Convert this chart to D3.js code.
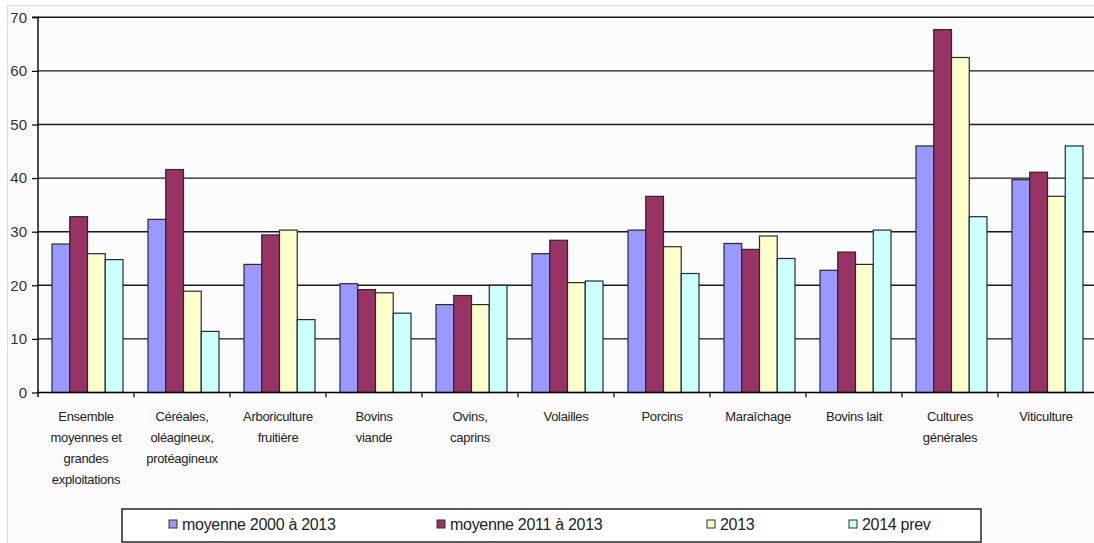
<!DOCTYPE html>
<html><head><meta charset="utf-8">
<script src="https://cdn.jsdelivr.net/npm/d3@7"></script>
<style>
html,body{margin:0;padding:0;background:#fff;}
svg{display:block;font-family:"Liberation Sans",Arial,sans-serif;}
</style></head>
<body>
<svg id="c" width="1094" height="543"></svg>
<script>
const categories = [
  ["Ensemble","moyennes et","grandes","exploitations"],
  ["Céréales,","oléagineux,","protéagineux"],
  ["Arboriculture","fruitière"],
  ["Bovins","viande"],
  ["Ovins,","caprins"],
  ["Volailles"],
  ["Porcins"],
  ["Maraîchage"],
  ["Bovins lait"],
  ["Cultures","générales"],
  ["Viticulture"]
];
const seriesNames = ["moyenne 2000 à 2013","moyenne 2011 à 2013","2013","2014 prev"];
const seriesColors = ["#9999ff","#993366","#ffffcc","#ccffff"];
const moy2000_2013 = [27.7, 32.3, 23.9, 20.3, 16.4, 25.9, 30.3, 27.8, 22.8, 46.0, 39.7];
const moy2011_2013 = [32.8, 41.6, 29.4, 19.2, 18.1, 28.4, 36.6, 26.7, 26.2, 67.7, 41.1];
const v2013        = [25.9, 18.9, 30.3, 18.6, 16.4, 20.5, 27.2, 29.2, 23.9, 62.5, 36.6];
const v2014prev    = [24.8, 11.4, 13.6, 14.8, 20.0, 20.8, 22.2, 25.0, 30.3, 32.8, 46.0];
const yTicks = [0,10,20,30,40,50,60,70];

const series = [moy2000_2013, moy2011_2013, v2013, v2014prev];
const catKeys = categories.map(c => c.join(" "));

const svg = d3.select("#c");
// frame
svg.append("rect").attr("x",7.5).attr("y",5.5).attr("width",1100).attr("height",560)
  .attr("fill","#fcfcfc").attr("stroke","#dcdcdc").attr("stroke-width",1);

const x0 = d3.scaleBand().domain(catKeys).range([38,1094]).padding(0);
const bw = x0.bandwidth();
const x1 = d3.scaleBand().domain(d3.range(4)).range([bw*14/96, bw*85/96]).padding(0);
const y = d3.scaleLinear().domain([0,70]).range([392.5,17.3]);

// gridlines
svg.append("g").selectAll("line").data(yTicks.filter(t=>t>0)).join("line")
  .attr("x1",38).attr("x2",1094).attr("y1",d=>y(d)).attr("y2",d=>y(d))
  .attr("stroke","#1a1a1a").attr("stroke-width",1.4);

// bars
const g = svg.append("g");
catKeys.forEach((k,i)=>{
  series.forEach((s,j)=>{
    g.append("rect")
      .attr("x", x0(k)+x1(j))
      .attr("y", y(s[i]))
      .attr("width", x1.bandwidth())
      .attr("height", y(0)-y(s[i]))
      .attr("fill", seriesColors[j])
      .attr("stroke","#2a2a2a").attr("stroke-width",1.2);
  });
});

// y axis
const yAxis = d3.axisLeft(y).tickValues(yTicks).tickSize(6).tickPadding(5).tickFormat(d3.format("d"));
const ya = svg.append("g").attr("transform","translate(38,0)").call(yAxis);
ya.select(".domain").attr("stroke","#000").attr("stroke-width",1.4).attr("d","M-6,17.3H0V397");
ya.selectAll(".tick line").attr("stroke","#000").attr("stroke-width",1.2);
ya.selectAll(".tick text").attr("font-size",15).attr("fill","#333").attr("font-family","Liberation Sans, Arial, sans-serif").attr("dy","0.32em").attr("x",-11);

// x axis
const xa = svg.append("g").attr("transform","translate(0,392.5)");
xa.append("line").attr("x1",38).attr("x2",1094).attr("y1",0).attr("y2",0).attr("stroke","#000").attr("stroke-width",1.4);
xa.selectAll("line.tk").data(catKeys.slice(1)).join("line").attr("class","tk")
  .attr("x1",d=>x0(d)).attr("x2",d=>x0(d)).attr("y1",0).attr("y2",5).attr("stroke","#000").attr("stroke-width",1.2);

// category labels
const lab = svg.append("g");
categories.forEach((lines,i)=>{
  const cx = x0(catKeys[i]) + bw/2;
  const t = lab.append("text").attr("text-anchor","middle").attr("font-size",13).attr("fill","#222")
    .attr("letter-spacing","-0.3");
  lines.forEach((ln,li)=>{
    t.append("tspan").attr("x",cx).attr("y",416+li*21).attr("dy","0.35em").text(ln);
  });
});

// legend
svg.append("rect").attr("x",122).attr("y",509).attr("width",859).attr("height",33)
  .attr("fill","#fff").attr("stroke","#333").attr("stroke-width",1.6);
const legItems = [{sx:169,tx:182},{sx:437,tx:450},{sx:707,tx:720},{sx:849,tx:862}];
seriesNames.forEach((n,j)=>{
  svg.append("rect").attr("x",legItems[j].sx).attr("y",520).attr("width",8).attr("height",8)
    .attr("fill",seriesColors[j]).attr("stroke","#333").attr("stroke-width",1);
  svg.append("text").attr("x",legItems[j].tx).attr("y",524).attr("dy","0.35em")
    .attr("font-size",16).attr("fill","#222").attr("letter-spacing","-0.3").text(n);
});
</script>
</body></html>
